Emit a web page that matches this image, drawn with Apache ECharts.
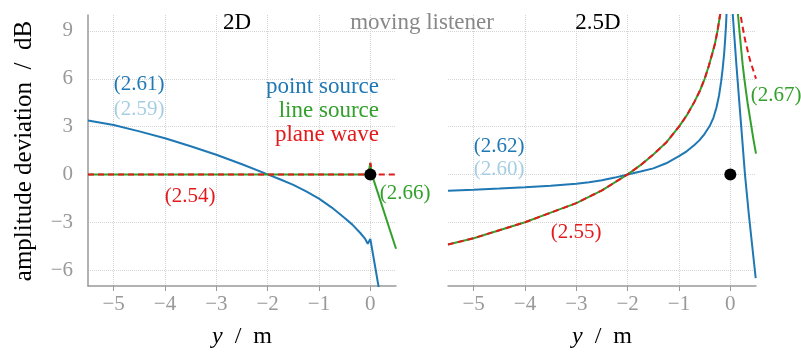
<!DOCTYPE html>
<html>
<head>
<meta charset="utf-8">
<script src="https://cdn.jsdelivr.net/npm/echarts@6/dist/echarts.min.js"></script>
<style>
html,body{margin:0;padding:0;background:#fff;}
#chart{width:801px;height:352px;}
</style>
</head>
<body>
<div id="chart"></div>
<script>
// ---------- data ----------
const xTicks = [-5, -4, -3, -2, -1, 0];
const yTicks = [-6, -3, 0, 3, 6, 9];

// 2D panel
const pt2D_x = [-5.5, -5, -4.5, -4, -3.5, -3, -2.5, -2, -1.75, -1.5, -1.25, -1, -0.75, -0.5, -0.35, -0.2, -0.1, -0.05, 0, 0.1, 0.2];
const pt2D_y = [3.38, 3.1, 2.7, 2.27, 1.77, 1.23, 0.64, 0, -0.32, -0.66, -1.07, -1.52, -2.08, -2.73, -3.15, -3.66, -4.05, -4.35, -4.05, -5.9, -7.8];
const ln2D_x = [-5.5, -0.04, 0, 0.02, 0.5];
const ln2D_y = [0, 0, 0.72, 0.1, -4.66];
const pw2D_x = [-5.5, -0.04, 0, 0.04, 0.5];
const pw2D_y = [0, 0, 0.72, 0, 0];

// 2.5D panel
const pt25L_x = [-5.5, -5, -4.5, -4, -3.5, -3, -2.75, -2.5, -2.25, -2, -1.75, -1.5, -1.25, -1, -0.85, -0.7, -0.6, -0.5, -0.4, -0.33, -0.27, -0.22, -0.18, -0.15, -0.12, -0.1, -0.085, -0.075, -0.06];
const pt25L_y = [-1.02, -0.96, -0.89, -0.81, -0.71, -0.58, -0.49, -0.37, -0.2, 0, 0.18, 0.38, 0.7, 1.15, 1.45, 1.85, 2.15, 2.55, 3.05, 3.55, 4.2, 4.95, 5.8, 6.6, 7.6, 8.5, 9.3, 10, 11.2];
const pt25R_x = [0.04, 0.048, 0.12, 0.2, 0.285, 0.36, 0.43, 0.494];
const pt25R_y = [10.5, 10, 6.8, 3.5, 0, -2.5, -4.6, -6.5];
const ln25L_x = [-5.5, -5, -4.5, -4, -3.5, -3, -2.5, -2.25, -2, -1.75, -1.5, -1.25, -1, -0.85, -0.7, -0.6, -0.5, -0.42, -0.35, -0.3, -0.25, -0.22, -0.2, -0.18];
const ln25L_y = [-4.4, -4.0, -3.5, -3.0, -2.4, -1.8, -1.0, -0.5, 0, 0.58, 1.25, 2.0, 3.0, 3.7, 4.55, 5.2, 6.0, 6.8, 7.6, 8.2, 9.0, 9.6, 10, 10.5];
const ln25R_x = [0.13, 0.15, 0.18, 0.21, 0.24, 0.273, 0.31, 0.34, 0.375, 0.41, 0.45, 0.5];
const ln25R_y = [10.5, 10, 8.9, 7.9, 6.9, 6, 5.1, 4.4, 3.7, 3, 2.2, 1.3];
const pw25L_x = [-5.5, -5, -4.5, -4, -3.5, -3, -2.5, -2.25, -2, -1.75, -1.5, -1.25, -1, -0.85, -0.7, -0.6, -0.5, -0.42, -0.35, -0.3, -0.25, -0.22, -0.2, -0.18];
const pw25L_y = [-4.4, -4.0, -3.5, -3.0, -2.4, -1.8, -1.0, -0.5, 0, 0.58, 1.25, 2.0, 3.0, 3.7, 4.55, 5.2, 6.0, 6.8, 7.6, 8.2, 9.0, 9.6, 10, 10.5];
const pw25R_x = [0.18, 0.2, 0.23, 0.26, 0.29, 0.32, 0.36, 0.39, 0.45, 0.5];
const pw25R_y = [10.5, 10, 9.4, 8.9, 8.4, 8.0, 7.45, 7.1, 6.5, 6.0];

const listener = [[0, 0]];

// ---------- styling ----------
const C_BLUE = '#1f78b4', C_LBLUE = '#a6cee3', C_GREEN = '#33a02c', C_RED = '#e31a1c';
const FONT = "'Liberation Serif', serif";
const AX = '#999', GRIDC = '#d4d4d4';

function zip(xs, ys) { return xs.map((x, i) => [x, ys[i]]); }
const minus = v => String(v).replace('-', '\u2212');

function xAxis(gi) {
  return {
    type: 'value', gridIndex: gi, min: -5.5, max: 0.5,
    axisLine: { show: true, onZero: false, lineStyle: { color: AX, width: 1.5 } },
    axisTick: { show: true, inside: false, length: 5, customValues: xTicks, lineStyle: { color: AX, width: 1 } },
    axisLabel: { customValues: xTicks, formatter: minus, color: AX, fontSize: 21, fontFamily: FONT, margin: 8 },
    splitLine: { show: true, lineStyle: { type: 'dotted', color: GRIDC, width: 1 } }
  };
}
function yAxis(gi, showLine) {
  return {
    type: 'value', gridIndex: gi, min: -7, max: 10,
    axisLine: { show: showLine, onZero: false, lineStyle: { color: AX, width: 1.5 } },
    axisTick: { show: false, customValues: yTicks },
    axisLabel: { show: showLine, customValues: yTicks, formatter: minus, color: AX, fontSize: 21, fontFamily: FONT, margin: 15 },
    splitLine: { show: true, lineStyle: { type: 'dotted', color: GRIDC, width: 1 } }
  };
}
function line(gi, data, color, dashed, z) {
  return {
    type: 'line', xAxisIndex: gi, yAxisIndex: gi, data: data, showSymbol: false,
    smooth: false, clip: true, z: z,
    lineStyle: { color: color, width: 2, type: dashed ? [6, 4] : 'solid' },
    itemStyle: { color: color }, emphasis: { disabled: true }
  };
}
function txt(x, y, text, color, size, align) {
  return { type: 'text', x: x, y: y, z: 100,
    style: { text: text, fill: color, font: size + 'px ' + FONT, textAlign: align || 'center', textVerticalAlign: 'middle' } };
}
function xTitle(x) {
  return { type: 'text', x: x, y: 337, z: 100,
    style: { text: '{i|y}  /  m', fill: '#000', font: '24px ' + FONT, textAlign: 'center', textVerticalAlign: 'middle',
      rich: { i: { fontStyle: 'italic', fontSize: 24, fontFamily: FONT, fill: '#000' } } } };
}

const chart = echarts.init(document.getElementById('chart'), null, { renderer: 'canvas' });
chart.setOption({
  animation: false,
  backgroundColor: '#fff',
  grid: [
    { left: 88, top: 15, width: 308, height: 271 },
    { left: 448, top: 15, width: 308, height: 271 }
  ],
  xAxis: [xAxis(0), xAxis(1)],
  yAxis: [yAxis(0, true), yAxis(1, false)],
  series: [
    line(0, zip(pt2D_x, pt2D_y), C_BLUE, false, 3),
    line(0, zip(ln2D_x, ln2D_y), C_GREEN, false, 4),
    line(0, zip(pw2D_x, pw2D_y), C_RED, true, 5),
    line(1, zip(pt25L_x, pt25L_y), C_BLUE, false, 3),
    line(1, zip(pt25R_x, pt25R_y), C_BLUE, false, 3),
    line(1, zip(ln25L_x, ln25L_y), C_GREEN, false, 4),
    line(1, zip(ln25R_x, ln25R_y), C_GREEN, false, 4),
    line(1, zip(pw25L_x, pw25L_y), C_RED, true, 5),
    line(1, zip(pw25R_x, pw25R_y), C_RED, true, 5),
    { type: 'scatter', xAxisIndex: 0, yAxisIndex: 0, data: listener, symbolSize: 12, itemStyle: { color: '#000', opacity: 1 }, z: 10 },
    { type: 'scatter', xAxisIndex: 1, yAxisIndex: 1, data: listener, symbolSize: 12, itemStyle: { color: '#000', opacity: 1 }, z: 10 }
  ],
  graphic: [
    txt(237, 23, '2D', '#000', 23),
    txt(422, 23, 'moving listener', '#888', 23),
    txt(598, 23, '2.5D', '#000', 23),
    { type: 'text', x: 24, y: 151, rotation: Math.PI / 2, z: 100,
      style: { text: 'amplitude deviation  /  dB', fill: '#000', font: '25px ' + FONT, textAlign: 'center', textVerticalAlign: 'middle' } },
    xTitle(242),
    xTitle(602),
    txt(379, 87, 'point source', C_BLUE, 23, 'right'),
    txt(379, 111, 'line source', C_GREEN, 23, 'right'),
    txt(379, 135, 'plane wave', C_RED, 23, 'right'),
    txt(139, 84, '(2.61)', C_BLUE, 21),
    txt(139, 109, '(2.59)', C_LBLUE, 21),
    txt(190, 196, '(2.54)', C_RED, 21),
    txt(405, 193, '(2.66)', C_GREEN, 21),
    txt(499, 146, '(2.62)', C_BLUE, 21),
    txt(499, 169, '(2.60)', C_LBLUE, 21),
    txt(576, 232, '(2.55)', C_RED, 21),
    txt(776, 95, '(2.67)', C_GREEN, 21)
  ]
});
</script>
</body>
</html>
